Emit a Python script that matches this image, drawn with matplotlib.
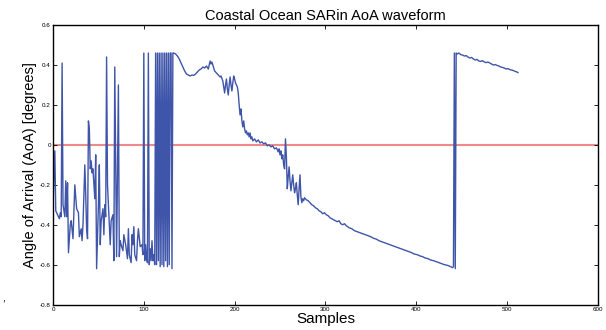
import matplotlib.pyplot as plt

plt.rcParams['font.family'] = ['Liberation Sans', 'DejaVu Sans']

TITLE = 'Coastal Ocean SARin AoA waveform'
X_LABEL = 'Samples'
Y_LABEL = 'Angle of Arrival (AoA) [degrees]'

X_TICKS = [0, 100, 200, 300, 400, 500, 600]
Y_TICKS = [-0.8, -0.6, -0.4, -0.2, 0, 0.2, 0.4, 0.6]
Y_TICK_LABELS = ['-0.8', '-0.6', '-0.4', '-0.2', '0', '0.2', '0.4', '0.6']

# noisy near-coast part (samples 0..132)
SAMPLES_NOISY = [
    0, 2, 3, 5, 7, 8, 9, 10, 11, 13, 14, 15, 16, 17, 19, 20, 22, 24, 26, 28,
    29, 31, 32, 33, 35, 36, 37, 38, 39, 40, 41, 42, 43, 44, 46, 47, 48, 50,
    51, 52, 53, 55, 56, 57, 58, 59, 60, 62, 63, 64, 66, 67, 68, 69, 70, 72,
    73, 74, 75, 77, 78, 80, 82, 83, 84, 86, 87, 88, 89, 90, 92, 93, 94, 96,
    98, 99, 100, 101, 102, 103, 104, 105, 106, 107, 108, 109, 110, 111, 112,
    113, 114, 115, 116, 117, 118, 119, 120, 121, 122, 123, 124, 125, 126,
    127, 128, 129, 130, 131, 132,
]
AOA_NOISY = [
    -0.30, -0.03, -0.33, -0.35, -0.37, -0.34, -0.36, 0.41, -0.30, -0.36,
    -0.18, -0.36, -0.19, -0.54, -0.40, -0.38, -0.47, -0.20, -0.32, -0.34,
    -0.46, -0.42, -0.48, -0.40, -0.10, -0.25, -0.42, -0.47, 0.12, 0.08,
    -0.12, -0.08, -0.14, -0.12, -0.27, -0.05, -0.62, -0.30, -0.10, -0.50,
    -0.38, -0.32, -0.45, -0.30, -0.36, 0.44, -0.20, -0.40, -0.50, -0.38,
    -0.35, -0.58, 0.39, -0.10, -0.56, 0.30, -0.56, -0.48, -0.50, -0.53,
    -0.45, -0.50, -0.57, -0.42, -0.55, -0.59, -0.45, -0.50, -0.41, -0.55,
    -0.58, -0.48, -0.42, -0.51, -0.50, -0.55, 0.46, -0.58, -0.50, -0.57,
    -0.59, 0.46, -0.60, -0.52, -0.58, -0.48, -0.58, -0.55, -0.60, 0.46,
    -0.60, 0.46, -0.58, 0.46, -0.61, 0.46, -0.60, 0.46, -0.61, 0.46,
    -0.58, 0.46, -0.61, 0.46, -0.60, 0.46, 0.46, -0.62, 0.46,
]

# smooth open-ocean part
SAMPLES_SMOOTH = [
    133, 135, 137, 139, 141, 143, 145, 147, 149, 151, 153, 155, 157, 159,
    161, 163, 165, 167, 169, 171, 172, 173, 174, 175, 176, 178, 180, 182,
    184, 185, 187, 188, 189, 190, 191, 192, 193, 194, 195, 196, 197, 198,
    199, 200, 201, 203, 204, 205, 206, 207, 208, 209, 210, 211, 212, 213,
    214, 215, 216, 217, 218, 219, 220, 222, 224, 226, 228, 230, 232, 234,
    236, 238, 240, 242, 244, 246, 248, 249, 250, 251, 252, 253, 254, 255,
    256, 257, 258, 259, 260, 261, 262, 263, 264, 265, 266, 267, 268, 269,
    270, 271, 272, 273, 274, 275, 276, 277, 279, 281, 283, 285, 287, 289,
    291, 293, 295, 297, 299, 301, 303, 305, 307, 309, 311, 313, 315, 317,
    319, 321, 323, 326, 329, 332, 335, 338, 341, 344, 347, 350, 353, 356,
    359, 362, 365, 368, 371, 374, 377, 380, 383, 386, 389, 392, 395, 398,
    401, 404, 407, 410, 413, 416, 419, 422, 425, 428, 431, 434, 437, 440,
    441, 442, 443, 444, 445, 447, 449, 451, 453, 455, 457, 459, 461, 463,
    465, 467, 469, 471, 473, 475, 477, 479, 481, 483, 485, 487, 489, 491,
    493, 495, 497, 499, 501, 503, 505, 507, 509, 511, 512,
]
AOA_SMOOTH = [
    0.46, 0.455, 0.445, 0.43, 0.41, 0.39, 0.37, 0.355, 0.35, 0.345, 0.35,
    0.348, 0.355, 0.365, 0.375, 0.38, 0.39, 0.385, 0.395, 0.38, 0.40, 0.42,
    0.405, 0.415, 0.40, 0.37, 0.36, 0.35, 0.34, 0.345, 0.32, 0.29, 0.26,
    0.30, 0.33, 0.28, 0.25, 0.30, 0.34, 0.30, 0.27, 0.31, 0.345, 0.33, 0.31,
    0.29, 0.26, 0.20, 0.15, 0.18, 0.12, 0.09, 0.12, 0.08, 0.06, 0.07, 0.05,
    0.06, 0.04, 0.06, 0.03, 0.04, 0.02, 0.03, 0.015, 0.025, 0.01, 0.015,
    0.005, 0.01, -0.005, 0.0, -0.01, -0.005, -0.02, -0.015, -0.035, -0.02,
    -0.05, -0.03, -0.07, -0.05, -0.10, -0.12, 0.03, -0.06, -0.22, -0.16,
    -0.11, -0.18, -0.23, -0.19, -0.15, -0.20, -0.24, -0.22, -0.19, -0.25,
    -0.30, -0.22, -0.15, -0.26, -0.29, -0.27, -0.28, -0.265, -0.275, -0.28,
    -0.29, -0.30, -0.305, -0.315, -0.32, -0.33, -0.335, -0.345, -0.34,
    -0.35, -0.355, -0.365, -0.37, -0.375, -0.38, -0.385, -0.38, -0.395,
    -0.40, -0.395, -0.405, -0.415, -0.42, -0.43, -0.435, -0.44, -0.445,
    -0.45, -0.455, -0.46, -0.468, -0.472, -0.48, -0.485, -0.49, -0.495,
    -0.50, -0.505, -0.51, -0.515, -0.52, -0.525, -0.53, -0.535, -0.54,
    -0.547, -0.55, -0.556, -0.56, -0.567, -0.57, -0.577, -0.58, -0.585,
    -0.59, -0.595, -0.60, -0.603, -0.608, -0.615, -0.61, 0.46, -0.62, 0.46,
    0.455, 0.46, 0.452, 0.45, 0.445, 0.447, 0.44, 0.435, 0.438, 0.43, 0.425,
    0.428, 0.42, 0.418, 0.422, 0.415, 0.412, 0.415, 0.41, 0.405, 0.40,
    0.402, 0.398, 0.395, 0.39, 0.388, 0.385, 0.38, 0.382, 0.377, 0.375,
    0.372, 0.368, 0.365, 0.362,
]

samples = SAMPLES_NOISY + SAMPLES_SMOOTH
aoa = AOA_NOISY + AOA_SMOOTH

fig = plt.figure(figsize=(6.06, 3.30), dpi=100)
ax = fig.add_axes([0.0875, 0.077, 0.899, 0.847])

ax.axhline(0, color='#ee8a8a', lw=1.5, zorder=1)
ax.plot(samples, aoa, color='#3f55aa', lw=1.0, zorder=2)

ax.set_xlim(0, 600)
ax.set_ylim(-0.8, 0.6)
ax.set_xticks(X_TICKS)
ax.set_yticks(Y_TICKS)
ax.set_yticklabels(Y_TICK_LABELS)
ax.tick_params(direction='in', length=3, width=0.6, labelsize=4.5,
               top=True, right=True, pad=1.5)
for spine in ax.spines.values():
    spine.set_linewidth(1.0)

ax.set_title(TITLE, fontsize=10.5, pad=4)
ax.set_xlabel(X_LABEL, fontsize=11, labelpad=0)
ax.set_ylabel(Y_LABEL, fontsize=10.5, labelpad=2)

# stray mark left of the axes in the scan
fig.text(0.004, 0.085, ',', fontsize=8)

fig.savefig('out.png', dpi=100)
plt.close(fig)
